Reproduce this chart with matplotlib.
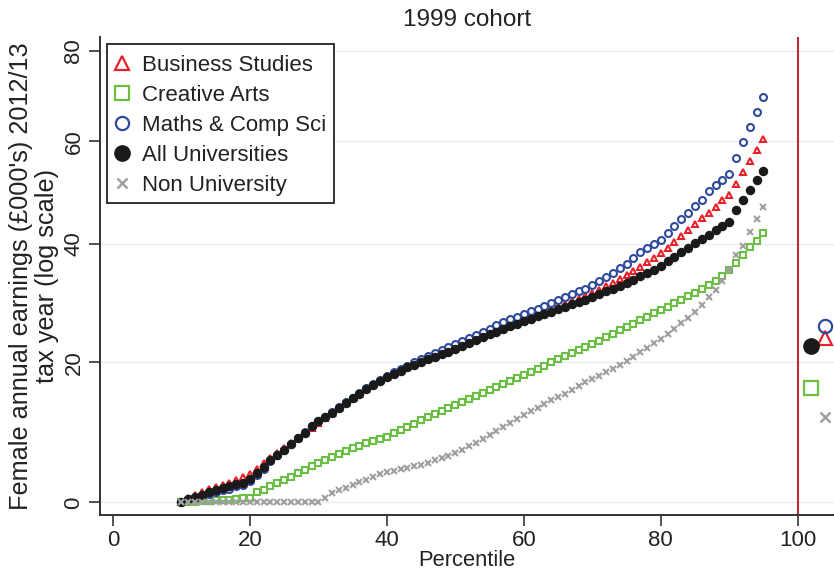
import matplotlib
matplotlib.use('Agg')
import matplotlib.pyplot as plt
from matplotlib.lines import Line2D
from matplotlib.patches import Rectangle
from matplotlib.ticker import FixedLocator, FixedFormatter
import numpy as np

percentiles = list(range(10, 96))

business = [0.0, 0.6, 1.0, 1.35, 1.7, 2.0, 2.3, 2.6, 2.95, 3.3,
            3.8, 4.4, 5.2, 6.0, 6.6, 7.3, 8.0, 8.7, 9.4, 10.2,
            10.9, 11.6, 12.3, 13.1, 13.8, 14.5, 15.2, 15.9, 16.6, 17.2,
            17.8, 18.3, 18.8, 19.3, 19.7, 20.2, 20.6, 21.0, 21.4, 21.8,
            22.2, 22.7, 23.2, 23.7, 24.2, 24.7, 25.1, 25.5, 26.0, 26.4,
            26.9, 27.3, 27.7, 28.1, 28.6, 29.0, 29.4, 29.9, 30.3, 30.8,
            31.3, 31.9, 32.5, 33.1, 33.8, 34.5, 35.2, 35.9, 36.7, 37.5,
            38.3, 39.2, 40.3, 41.5, 42.6, 43.6, 44.9, 45.8, 46.9, 48.2,
            49.2, 51.3, 53.7, 55.9, 58.2, 60.5]

creative = [0.0, 0.05, 0.1, 0.15, 0.2, 0.25, 0.3, 0.35, 0.4, 0.5,
            0.6, 1.3, 1.6, 2.1, 2.5, 2.9, 3.3, 3.9, 4.3, 4.8,
            5.2, 5.7, 6.1, 6.5, 6.9, 7.3, 7.6, 8.0, 8.3, 8.6,
            8.9, 9.4, 9.9, 10.3, 10.8, 11.3, 11.7, 12.2, 12.6, 13.1,
            13.5, 13.9, 14.4, 14.8, 15.3, 15.8, 16.2, 16.7, 17.1, 17.6,
            18.0, 18.5, 19.0, 19.5, 20.0, 20.5, 21.0, 21.5, 21.9, 22.4,
            22.9, 23.4, 24.0, 24.5, 25.1, 25.6, 26.2, 26.8, 27.3, 27.9,
            28.5, 29.0, 29.6, 30.2, 30.8, 31.4, 32.0, 32.7, 33.4, 34.2,
            35.3, 36.6, 38.0, 39.4, 40.6, 42.0]

maths = [0.0, 0.4, 0.6, 0.9, 1.1, 1.4, 1.6, 1.8, 2.1, 2.3,
         2.8, 3.6, 4.5, 5.5, 6.3, 7.1, 7.9, 8.8, 9.6, 10.4,
         11.1, 11.8, 12.5, 13.2, 13.9, 14.6, 15.3, 16.0, 16.7, 17.3,
         17.9, 18.5, 19.0, 19.5, 20.0, 20.5, 21.0, 21.5, 21.9, 22.4,
         22.9, 23.4, 23.9, 24.4, 24.9, 25.4, 25.9, 26.4, 26.9, 27.3,
         27.8, 28.3, 28.7, 29.2, 29.6, 30.1, 30.6, 31.1, 31.6, 32.1,
         32.7, 33.4, 34.1, 34.8, 35.6, 36.4, 37.5, 38.6, 39.3, 40.0,
         40.7, 42.0, 43.3, 44.6, 45.7, 47.0, 48.3, 50.0, 51.1, 52.2,
         53.3, 56.6, 59.9, 63.0, 66.2, 69.6]

all_uni = [0.0, 0.4, 0.7, 1.0, 1.3, 1.6, 1.9, 2.1, 2.4, 2.6,
           3.1, 3.9, 4.7, 5.7, 6.4, 7.1, 7.9, 8.7, 9.5, 10.4,
           11.1, 11.8, 12.4, 13.1, 13.8, 14.5, 15.2, 15.9, 16.5, 17.1,
           17.7, 18.2, 18.7, 19.2, 19.6, 20.1, 20.5, 20.9, 21.3, 21.7,
           22.1, 22.6, 23.1, 23.6, 24.0, 24.5, 24.9, 25.3, 25.8, 26.2,
           26.6, 27.0, 27.4, 27.8, 28.2, 28.6, 29.0, 29.4, 29.8, 30.2,
           30.7, 31.1, 31.6, 32.1, 32.6, 33.1, 33.6, 34.2, 34.8, 35.4,
           36.1, 36.9, 37.7, 38.6, 39.3, 40.1, 40.9, 41.7, 42.5, 43.4,
           44.1, 46.3, 48.2, 50.1, 52.2, 54.0]

non_uni = [0.0, 0.0, 0.0, 0.0, 0.0, 0.0, 0.0, 0.0, 0.0, 0.0,
           0.0, 0.0, 0.0, 0.0, 0.0, 0.0, 0.0, 0.0, 0.0, 0.0,
           0.1, 0.6, 1.2, 1.6, 1.9, 2.3, 2.7, 3.0, 3.4, 3.7,
           4.0, 4.2, 4.4, 4.6, 4.8, 5.0, 5.3, 5.6, 5.9, 6.2,
           6.6, 7.1, 7.6, 8.1, 8.6, 9.1, 9.7, 10.3, 10.9, 11.5,
           12.0, 12.6, 13.1, 13.6, 14.2, 14.7, 15.2, 15.8, 16.3, 16.9,
           17.4, 17.9, 18.5, 19.0, 19.6, 20.2, 20.9, 21.6, 22.3, 23.0,
           23.7, 24.5, 25.4, 26.3, 27.2, 28.1, 29.3, 30.6, 31.9, 33.4,
           35.3, 38.0, 39.7, 42.2, 44.6, 46.9]

# averages shown to the right of the 100 line
avg_x = [104, 102, 104, 102, 104]
avg_y = [23.8, 16.1, 25.8, 22.5, 11.8]

labels = ['Business Studies', 'Creative Arts', 'Maths & Comp Sci',
          'All Universities', 'Non University']
series = [business, creative, maths, all_uni, non_uni]
colors = ['#e8202a', '#6cbf45', '#2f4a9c', '#1a1a1a', '#a0a0a0']
markers = ['^', 's', 'o', 'o', 'x']
filled = [False, False, False, True, True]

yticks = [0, 20, 40, 60, 80]
xticks = [0, 20, 40, 60, 80, 100]

plt.rcParams['font.family'] = ['Liberation Sans', 'DejaVu Sans']

W, H = 834, 571
fig = plt.figure(figsize=(W / 100, H / 100), dpi=100)
ax = fig.add_axes([99.7 / W, 1 - 514.7 / H, 1 - 99.7 / W, (514.7 - 37) / H])

# log scale with offset, as in the original
ax.set_yscale('function', functions=(lambda y: np.log(y + 100),
                                     lambda u: np.exp(u) - 100))

for yt in yticks:
    ax.axhline(yt, color='#e6eff4', lw=1, zorder=0)
ax.axvline(100, color='#c8283c', lw=1.5, zorder=1)

for vals, col, mk, fl in zip(series, colors, markers, filled):
    if mk == 'x':
        ax.plot(percentiles, vals, ls='none', marker='x', ms=4.2, mew=1.5,
                color=col, zorder=3)
    elif fl:
        ax.plot(percentiles, vals, ls='none', marker=mk, ms=5.8,
                color=col, mec=col, zorder=3)
    else:
        ax.plot(percentiles, vals, ls='none', marker=mk, ms=5, mew=1.5,
                mfc='white', mec=col, zorder=3)

for xv, yv, col, mk, fl in zip(avg_x, avg_y, colors, markers, filled):
    if mk == 'x':
        ax.plot(xv, yv, ls='none', marker='x', ms=7, mew=1.8, color=col)
    elif fl:
        ax.plot(xv, yv, ls='none', marker=mk, ms=11, color=col)
    else:
        ax.plot(xv, yv, ls='none', marker=mk, ms=9.5, mew=1.6,
                mfc='none', mec=col)

ax.set_xlim(-1.94, 105.3)
ax.set_ylim(-1.6, 83.3)
ax.yaxis.set_major_locator(FixedLocator(yticks))
ax.yaxis.set_major_formatter(FixedFormatter([str(t) for t in yticks]))
ax.yaxis.set_minor_locator(FixedLocator([]))
ax.set_xticks(xticks)

for s in ['top', 'right']:
    ax.spines[s].set_visible(False)
for s in ['left', 'bottom']:
    ax.spines[s].set_color('#333333')
    ax.spines[s].set_linewidth(1.4)

ax.tick_params(axis='both', which='major', length=8, width=1.2,
               colors='#333333', labelcolor='#222222', labelsize=16, pad=3)
for lab in ax.get_yticklabels():
    lab.set_rotation(90)
    lab.set_va('center')

ax.set_title('1999 cohort', fontsize=17.5, color='#222222', pad=8)
ax.set_xlabel('Percentile', fontsize=15.8, color='#222222', labelpad=-1)
ax.set_ylabel("Female annual earnings (\u00a3000's) 2012/13\ntax year (log scale)",
              fontsize=18.2, color='#222222', labelpad=3, linespacing=1.12)

handles = []
for col, mk, fl in zip(colors, markers, filled):
    if mk == 'x':
        h = Line2D([], [], ls='none', marker='x', ms=7, mew=1.8, color=col)
    elif fl:
        h = Line2D([], [], ls='none', marker=mk, ms=11, color=col)
    else:
        h = Line2D([], [], ls='none', marker=mk, ms=9.5, mew=1.6,
                   mfc='none', mec=col)
    handles.append(h)

# legend box drawn separately so the padding matches the original
box = Rectangle((107 / W, 1 - 203 / H), (334 - 107) / W, (203 - 44) / H,
                transform=fig.transFigure, fill=True, facecolor='white',
                edgecolor='#333333', lw=1.4, zorder=4)
ax.add_artist(box)
box.set_clip_on(False)

leg = ax.legend(handles, labels, loc='upper left',
                bbox_to_anchor=(113 / W, 1 - 55 / H),
                bbox_transform=fig.transFigure, borderaxespad=0,
                fontsize=16, frameon=False, handlelength=0.8,
                handletextpad=0.5, labelspacing=0.4, borderpad=0)
leg.set_zorder(5)
for t in leg.get_texts():
    t.set_color('#222222')

fig.savefig('out.png', dpi=100)
